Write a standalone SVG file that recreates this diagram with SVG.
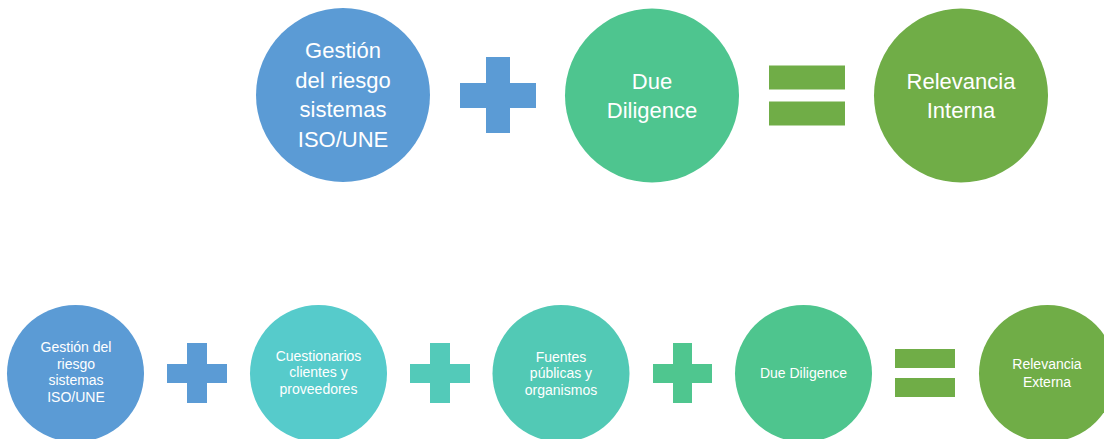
<svg xmlns="http://www.w3.org/2000/svg" width="1104" height="439" viewBox="0 0 1104 439">
<style>
text{font-family:"Liberation Sans",Arial,sans-serif;fill:#fff;text-anchor:middle}
.big{font-size:22px}
.sm{font-size:14px}
</style>
<rect width="1104" height="439" fill="#fff"/>
<g id="top-gestion">
<circle cx="343" cy="95" r="87" fill="#5B9BD5"/>
<text class="big"><tspan x="343" y="58">Gestión</tspan><tspan x="343" y="88">del riesgo</tspan><tspan x="343" y="117">sistemas</tspan><tspan x="343" y="147">ISO/UNE</tspan></text>
</g>
<g id="top-plus">
<path d="M486 57h24v26h26v25h-26v25h-24v-25h-26v-25h26z" fill="#5B9BD5"/>
</g>
<g id="top-due">
<circle cx="652" cy="95.5" r="87" fill="#4EC58F"/>
<text class="big"><tspan x="652" y="89">Due</tspan><tspan x="652" y="118">Diligence</tspan></text>
</g>
<g id="top-equals" fill="#70AD47">
<rect x="769" y="65.5" width="76" height="24"/>
<rect x="769" y="101.5" width="76" height="24"/>
</g>
<g id="top-relevancia">
<circle cx="961" cy="95.5" r="87" fill="#70AD47"/>
<text class="big"><tspan x="961" y="89">Relevancia</tspan><tspan x="961" y="118">Interna</tspan></text>
</g>

<g id="bot-gestion">
<circle cx="75.5" cy="373.5" r="68.5" fill="#5B9BD5"/>
<text class="sm"><tspan x="76" y="352">Gestión del</tspan><tspan x="76" y="368.5">riesgo</tspan><tspan x="76" y="385">sistemas</tspan><tspan x="76" y="401.5">ISO/UNE</tspan></text>
</g>
<g id="bot-plus1">
<path d="M187 343h20v21h20v19h-20v20h-20v-20h-20v-19h20z" fill="#5B9BD5"/>
</g>
<g id="bot-cuestionarios">
<circle cx="318.5" cy="373.5" r="68.5" fill="#56CBCB"/>
<text class="sm"><tspan x="318.5" y="360.5">Cuestionarios</tspan><tspan x="318.5" y="377">clientes y</tspan><tspan x="318.5" y="393.5">proveedores</tspan></text>
</g>
<g id="bot-plus2">
<path d="M430 343h20v21h20v19h-20v20h-20v-20h-20v-19h20z" fill="#53CAB9"/>
</g>
<g id="bot-fuentes">
<circle cx="561" cy="373.5" r="68.5" fill="#52C9B5"/>
<text class="sm"><tspan x="561" y="361.5">Fuentes</tspan><tspan x="561" y="378">públicas y</tspan><tspan x="561" y="394.5">organismos</tspan></text>
</g>
<g id="bot-plus3">
<path d="M673 343h19v21h20v19h-20v20h-19v-20h-20v-19h20z" fill="#4FC68F"/>
</g>
<g id="bot-due">
<circle cx="803.5" cy="373.5" r="68.5" fill="#4EC58E"/>
<text class="sm"><tspan x="803.5" y="378">Due Diligence</tspan></text>
</g>
<g id="bot-equals" fill="#70AD47">
<rect x="895" y="349" width="60" height="19"/>
<rect x="895" y="378" width="60" height="19"/>
</g>
<g id="bot-relevancia">
<circle cx="1047.5" cy="373.5" r="68.5" fill="#70AD47"/>
<text class="sm"><tspan x="1047" y="369">Relevancia</tspan><tspan x="1047" y="386.5">Externa</tspan></text>
</g>
<g id="connectors"/>
</svg>
